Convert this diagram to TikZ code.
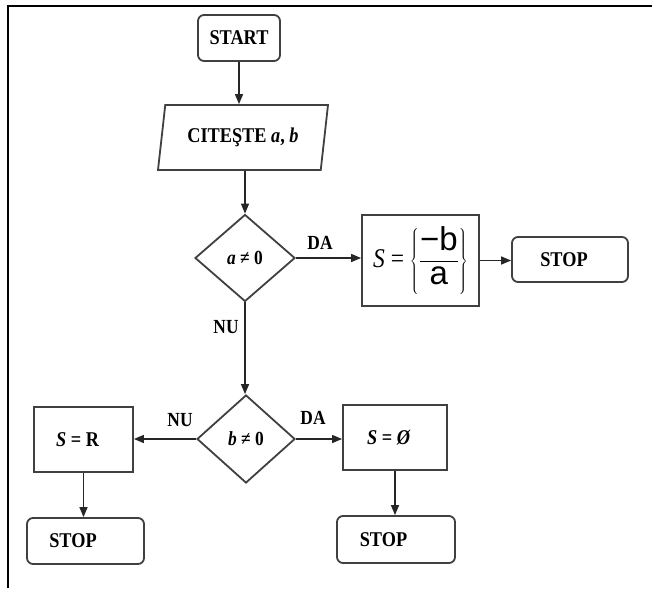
\documentclass[tikz,border=0pt]{standalone}
\usepackage{fontspec}
\setmainfont{Liberation Serif}[FakeStretch=0.87]
\newfontfamily\sansf{Liberation Sans}
\usetikzlibrary{shapes.geometric,arrows.meta}
\begin{document}
\begin{tikzpicture}[x=1pt,y=-1pt,
  box/.style={draw=black!75,line width=1.8pt,inner sep=0pt,font=\fontsize{21}{24}\selectfont\bfseries},
  rbox/.style={box,rounded corners=6pt},
  decis/.style={diamond,draw=black!75,line width=1.8pt,inner sep=0pt,font=\fontsize{20}{23}\selectfont\bfseries},
  readbox/.style={trapezium,trapezium left angle=69,trapezium right angle=111,trapezium stretches body,draw=black!75,line width=1.8pt,inner sep=0pt,font=\fontsize{21}{24}\selectfont\bfseries},
  arr/.style={draw=black!85,line width=1.4pt,-{Triangle[length=10pt,width=8pt]}},
  lbl/.style={font=\fontsize{20}{23}\selectfont\bfseries,inner sep=0pt}]
\useasboundingbox (0,0) rectangle (652,588);
\fill[white] (0,0) rectangle (652,588);
\draw[line width=2.4pt] (8,588) -- (8,6) -- (652,6);

\node[rbox,minimum width=82pt,minimum height=46pt] (start) at (239,38) {START};
\node[readbox,minimum width=170pt,minimum height=65pt] (read) at (243,137.5) {CITEŞTE \textit{a}, \textit{b}};
\node[decis,minimum width=100pt,minimum height=87pt] (d1) at (245,258) {\textit{a} ≠ 0};
\node[box,minimum width=117pt,minimum height=91pt,font=\fontsize{27}{30}\selectfont] (sbox) at (420.5,260.5)
  {\textit{S} = {\fontsize{33}{36}\selectfont$\left\{\displaystyle\frac{\mbox{\sansf −b}}{\mbox{\sansf a}}\right\}$}};
\node[rbox,minimum width=116pt,minimum height=45pt] (stop1) at (570,259.5) {STOP\hspace*{12pt}};
\node[decis,minimum width=98pt,minimum height=88pt] (d2) at (246,439) {\textit{b} ≠ 0};
\node[box,minimum width=99pt,minimum height=65pt] (sr) at (83.5,439.5) {\textit{S} = R\hspace*{12pt}};
\node[box,minimum width=104pt,minimum height=65pt] (se) at (395,437.5) {\textit{S} = \textit{Ø}\hspace*{12pt}};
\node[rbox,minimum width=117pt,minimum height=46pt] (stop2) at (85.5,541) {STOP\hspace*{25pt}};
\node[rbox,minimum width=118pt,minimum height=47pt] (stop3) at (396,539.5) {STOP\hspace*{25pt}};

\node[lbl] (da1) at (320,243) {DA};
\node[lbl] (nu1) at (226,327) {NU};
\node[lbl] (nu2) at (180,420) {NU};
\node[lbl] (da2) at (313,418) {DA};

\draw[arr] (start.south) -- (start.south |- read.north);
\draw[arr] (read.south -| d1.north) -- (d1.north);
\draw[arr] (d1.east) -- (d1.east -| sbox.west);
\draw[arr] (sbox.east) -- (sbox.east -| stop1.west);
\draw[arr] (d1.south) -- (d1.south |- d2.north);
\draw[arr] (d2.west) -- (d2.west -| sr.east);
\draw[arr] (d2.east) -- (d2.east -| se.west);
\draw[arr] (sr.south) -- (sr.south |- stop2.north);
\draw[arr] (se.south) -- (se.south |- stop3.north);
\end{tikzpicture}
\end{document}
